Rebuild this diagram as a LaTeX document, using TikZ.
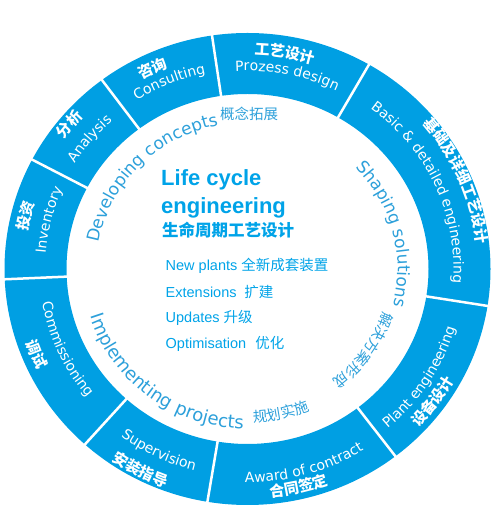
\documentclass[tikz,border=0pt]{standalone}
\usepackage{fontspec}
\setmainfont{Liberation Sans}
\newfontfamily\dejavu{DejaVu Sans}
\newfontfamily\cjk{Noto Sans CJK SC}
\usetikzlibrary{decorations.text,calc}
\definecolor{ringblue}{RGB}{0,159,227}
\definecolor{labelblue}{RGB}{45,160,218}
\definecolor{centerblue}{RGB}{0,163,232}
\newcommand\rEN{\dejavu\fontsize{14pt}{16pt}\selectfont}
\newcommand\rZH{\cjk\bfseries\fontsize{15pt}{17pt}\selectfont}
\newcommand\iEN{\dejavu\fontsize{17pt}{20pt}\selectfont}
\newcommand\iENb{\dejavu\fontsize{18pt}{21pt}\selectfont}
\newcommand\iZH{\cjk\fontsize{14.5pt}{17pt}\selectfont}
% text on clockwise arc (letter tops outward)
\newcommand\ringcw[5]{%
  \pgfmathsetmacro\myrx{1.03*#2}%
  \pgfmathsetmacro\mya{#1+70}\pgfmathsetmacro\myb{#1-70}%
  \path[decorate,decoration={text along path,text align=center,text color=#3,text={|#4|#5}}]
    ($(C)+(\mya:\myrx pt and #2pt)$) arc[start angle=\mya,end angle=\myb,x radius=\myrx pt,y radius=#2pt];}
% text on counter-clockwise arc (letter tops inward)
\newcommand\ringccw[5]{%
  \pgfmathsetmacro\myrx{1.03*#2}%
  \pgfmathsetmacro\mya{#1-70}\pgfmathsetmacro\myb{#1+70}%
  \path[decorate,decoration={text along path,text align=center,text color=#3,text={|#4|#5}}]
    ($(C)+(\mya:\myrx pt and #2pt)$) arc[start angle=\mya,end angle=\myb,x radius=\myrx pt,y radius=#2pt];}
\begin{document}
\begin{tikzpicture}[x=1pt,y=1pt]
\useasboundingbox (0,0) rectangle (499,514);
\coordinate (C) at (247.5,245);
% ring
\fill[ringblue,even odd rule] (C) ellipse[x radius=243pt,y radius=236pt]
                              (C) ellipse[x radius=181pt,y radius=175pt];
\foreach \a in {182.5,152.4,126.8,98.4,60,-9,-52.5,-99.5,-132}
  \draw[white,line width=2.5pt] ($(C)+(\a:178pt and 172pt)$) -- ($(C)+(\a:247pt and 240pt)$);
% ring labels
\ringcw{166.5}{216.5}{white}{\rZH}{投资}
\ringcw{166}{196.5}{white}{\rEN}{Inventory}
\ringcw{140.9}{220}{white}{\rZH}{分析}
\ringcw{140.4}{198}{white}{\rEN}{Analysis}
\ringcw{115.3}{215.5}{white}{\rZH}{咨询}
\ringcw{112.6}{199.6}{white}{\rEN}{Consulting}
\ringcw{80.2}{214.5}{white}{\rZH}{工艺设计}
\ringcw{78.5}{198}{white}{\rEN}{Prozess design}
\ringcw{23}{223.8}{white}{\rZH}{基础及详细工艺设计}
\ringcw{24.25}{200}{white}{\rEN}{Basic {\&} detailed engineering}
\ringccw{-32.3}{210}{white}{\rEN}{Plant engineering}
\ringccw{-35.7}{229.5}{white}{\rZH}{设备设计}
\ringccw{-74}{213.5}{white}{\rEN}{Award of contract}
\ringccw{-76.8}{229.5}{white}{\rZH}{合同签定}
\ringccw{-115.8}{208}{white}{\rEN}{Supervision}
\ringccw{-117.9}{232.5}{white}{\rZH}{安装指导}
\ringccw{204}{202}{white}{\rEN}{Commissioning}
\ringccw{202.2}{227.5}{white}{\rZH}{调试}
% inner arc labels
\ringcw{135.9}{146.5}{labelblue}{\iEN}{Developing concepts}
\ringcw{14.5}{146}{labelblue}{\iEN}{Shaping solutions}
\ringcw{-35}{138.5}{labelblue}{\iZH}{解决方案形成}
\ringccw{232.4}{159.8}{labelblue}{\iENb}{Implementing projects}
\ringccw{-77}{153.5}{labelblue}{\iZH}{规划实施}
\node[font=\iZH,text=labelblue,inner sep=0] (dc) at (249,400.5) {概念拓展};
% centre text
\tikzset{titletext/.style={anchor=base west,inner sep=0,text=centerblue,font=\bfseries\fontsize{22pt}{26pt}\selectfont},
         listtext/.style={anchor=base west,inner sep=0,text=centerblue,font=\fontsize{14.5pt}{17pt}\selectfont}}
\node[titletext] (t1) at (161,328) {Life cycle};
\node[titletext] (t2) at (161,300) {engineering};
\node[anchor=base west,inner sep=0,text=centerblue,font=\cjk\bfseries\fontsize{16.5pt}{19pt}\selectfont] (t3) at (162,277.7) {生命周期工艺设计};
\node[listtext] (l1) at (165.5,243) {New plants {\cjk 全新成套装置}};
\node[listtext] (l2) at (165.5,216) {Extensions\hspace{0.25em} {\cjk 扩建}};
\node[listtext] (l3) at (165.5,191) {Updates {\cjk 升级}};
\node[listtext] (l4) at (165.5,165) {Optimisation\hspace{0.35em} {\cjk 优化}};
\end{tikzpicture}
\end{document}
